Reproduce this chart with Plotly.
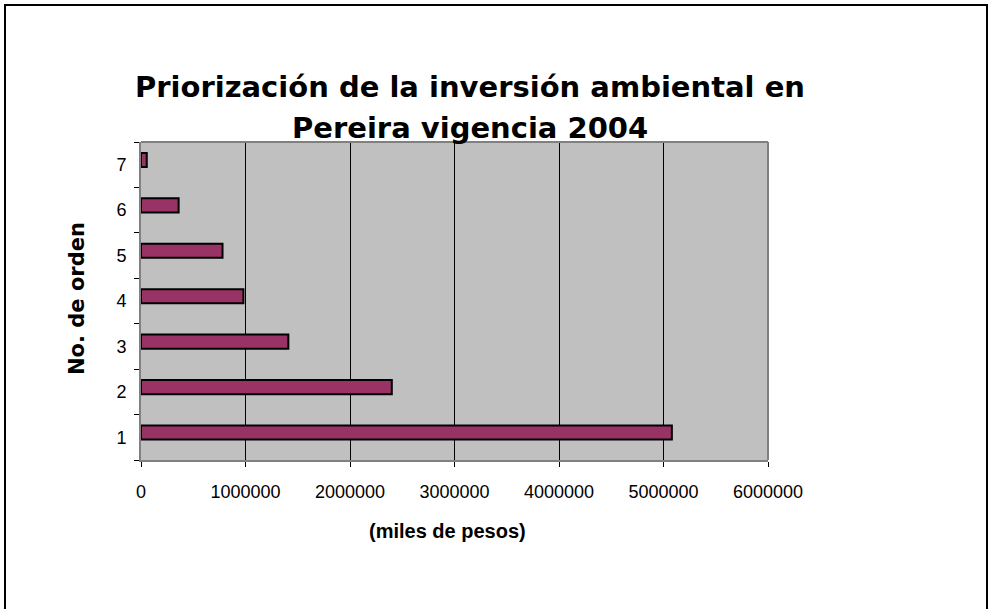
import plotly.graph_objects as go

categories = [1, 2, 3, 4, 5, 6, 7]
values = [5080000, 2400000, 1410000, 980000, 780000, 360000, 55000]
x_ticks = [0, 1000000, 2000000, 3000000, 4000000, 5000000, 6000000]
x_tick_labels = ["0", "1000000", "2000000", "3000000", "4000000", "5000000", "6000000"]
title_lines = ["Priorización de la inversión ambiental en", "Pereira vigencia 2004"]
x_title = "(miles de pesos)"
y_title = "No. de orden"

W, H = 992, 609
L, R, T, B = 141, 768, 142, 460

fig = go.Figure()
fig.add_trace(go.Bar(
    x=values, y=categories, orientation="h",
    width=0.31, offset=-0.05,
    marker=dict(color="#993366", line=dict(color="black", width=2)),
    hoverinfo="x+y",
))

fig.update_layout(
    width=W, height=H,
    margin=dict(l=L, r=W - R, t=T, b=H - B, pad=0),
    paper_bgcolor="white", plot_bgcolor="#C0C0C0",
    showlegend=False,
    font=dict(family="Liberation Sans, Arial, sans-serif", size=17, color="black"),
)
fig.update_xaxes(
    range=[0, 6000000], tickvals=x_ticks, ticktext=x_tick_labels,
    showgrid=True, gridcolor="black", gridwidth=1,
    zeroline=False, showline=True, linecolor="#808080", linewidth=2,
    mirror=False, ticks="outside", ticklen=5, tickcolor="black",
    tickfont=dict(size=18), ticklabelstandoff=9, fixedrange=True,
)
fig.update_yaxes(
    range=[0.5, 7.5], tickvals=categories, ticktext=[str(c) for c in categories],
    showgrid=False, zeroline=False, showline=True, linecolor="#808080", linewidth=2,
    ticks="", tickfont=dict(size=18), ticklabelstandoff=9,
    minor=dict(tickvals=[0.5 + i for i in range(8)], ticks="outside", ticklen=5, tickcolor="black"),
    fixedrange=True,
)

pw, ph = R - L, B - T
def px(x):
    return (x - L) / pw
def py(y):
    return (B - y) / ph

shapes = [
    dict(type="line", xref="paper", yref="paper", x0=0, x1=1, y0=1, y1=1,
         line=dict(color="#808080", width=2)),
    dict(type="line", xref="paper", yref="paper", x0=1, x1=1, y0=0, y1=1,
         line=dict(color="#808080", width=2)),
    dict(type="rect", xref="paper", yref="paper",
         x0=px(5), x1=px(987), y0=py(640), y1=py(5),
         line=dict(color="black", width=2), fillcolor="rgba(0,0,0,0)", layer="above"),
]
fig.update_layout(shapes=shapes)

annotations = []
for txt, yy in [(title_lines[0], 87), (title_lines[1], 128)]:
    annotations.append(dict(
        text="<b>%s</b>" % txt, x=px(470), y=py(yy), xref="paper", yref="paper",
        showarrow=False, xanchor="center", yanchor="middle",
        font=dict(family="DejaVu Sans, Verdana, sans-serif", size=29, color="black"),
    ))
annotations.append(dict(
    text="<b>%s</b>" % x_title, x=px(447), y=py(531), xref="paper", yref="paper",
    showarrow=False, xanchor="center", yanchor="middle",
    font=dict(family="Liberation Sans, Arial, sans-serif", size=20, color="black"),
))
annotations.append(dict(
    text="<b>%s</b>" % y_title, x=px(77), y=py(299), xref="paper", yref="paper",
    showarrow=False, xanchor="center", yanchor="middle", textangle=-90,
    font=dict(family="DejaVu Sans, Verdana, sans-serif", size=21, color="black"),
))
fig.update_layout(annotations=annotations)

fig.write_html("out.html", config={"displayModeBar": False},
               post_script="document.body.style.margin='0';")
